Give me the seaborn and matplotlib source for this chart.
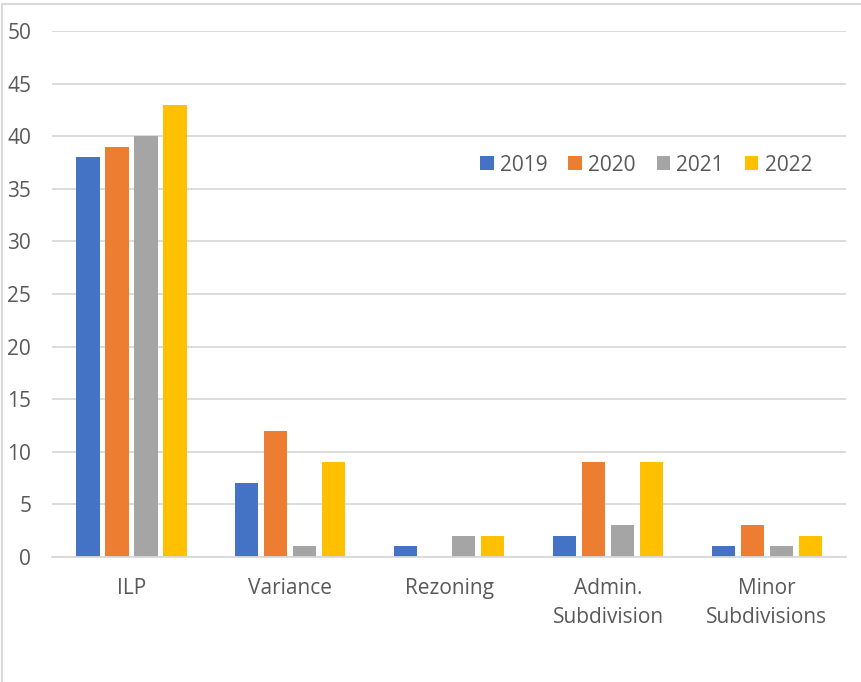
import matplotlib
matplotlib.use("Agg")
import matplotlib.pyplot as plt
import seaborn as sns
import pandas as pd
from matplotlib.patches import Rectangle

categories = ["ILP", "Variance", "Rezoning", "Admin.\nSubdivision", "Minor\nSubdivisions"]
years = ["2019", "2020", "2021", "2022"]
values_2019 = [38, 7, 1, 2, 1]
values_2020 = [39, 12, 0, 9, 3]
values_2021 = [40, 1, 2, 3, 1]
values_2022 = [43, 9, 2, 9, 2]
y_ticks = [0, 5, 10, 15, 20, 25, 30, 35, 40, 45, 50]

colors = ["#4472C4", "#ED7D31", "#A5A5A5", "#FFC000"]

rows = []
for year, vals in zip(years, [values_2019, values_2020, values_2021, values_2022]):
    for cat, v in zip(categories, vals):
        rows.append({"category": cat, "year": year, "count": v})
df = pd.DataFrame(rows)

sns.set_theme(style="white")
plt.rcParams["font.family"] = ["Open Sans", "DejaVu Sans"]

fig = plt.figure(figsize=(8.61, 6.82), dpi=100)
ax = fig.add_axes([0.0604, 0.1833, 0.9226, 0.7712])

sns.barplot(data=df, x="category", y="count", hue="year", order=categories,
            hue_order=years, palette=colors, width=0.73, gap=0.2,
            saturation=1, ax=ax, edgecolor="none", linewidth=0)

ax.set_ylim(0, 50)
ax.set_xlim(-0.5, len(categories) - 0.5)
ax.set_yticks(y_ticks)
ax.yaxis.grid(True, color="#D9D9D9", linewidth=1.3)
ax.set_axisbelow(True)
for side in ["top", "right", "left"]:
    ax.spines[side].set_visible(False)
ax.spines["bottom"].set_color("#D9D9D9")
ax.spines["bottom"].set_linewidth(1.3)
ax.set_xlabel("")
ax.set_ylabel("")
ax.tick_params(axis="y", length=0, pad=15, labelsize=15, labelcolor="#595959")
ax.tick_params(axis="x", length=0, pad=15, labelsize=15, labelcolor="#595959")
for lbl in ax.get_xticklabels():
    lbl.set_linespacing(1.5)

leg = ax.legend(loc="center", bbox_to_anchor=(0.748, 0.745), ncol=4, frameon=True,
                facecolor="white", edgecolor="none", framealpha=1,
                fontsize=15, handlelength=0.65, handleheight=0.65,
                handletextpad=0.3, columnspacing=1.0, borderpad=0.4)
for t in leg.get_texts():
    t.set_color("#595959")

fig.patches.append(Rectangle((2 / 861, -0.2), 1.2, 1 - 4 / 682 + 0.2,
                             transform=fig.transFigure, fill=False,
                             edgecolor="#D9D9D9", linewidth=1.5))

fig.savefig("out.png", dpi=100)
